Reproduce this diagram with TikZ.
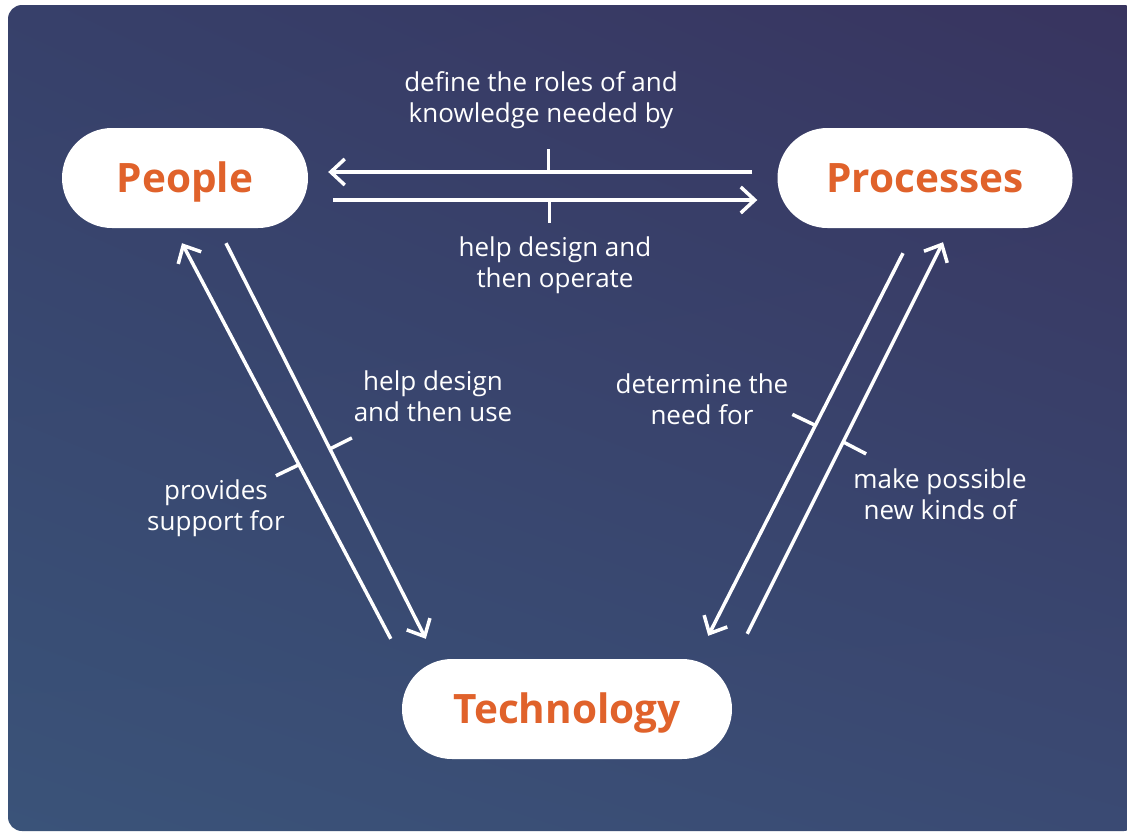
\documentclass[tikz,border=0pt]{standalone}
\usepackage{fontspec}
\setmainfont{Open Sans}
\usetikzlibrary{arrows.meta,shadings}

\definecolor{bgtl}{HTML}{37406A}
\definecolor{bgtr}{HTML}{38345F}
\definecolor{bgbl}{HTML}{3A5379}
\definecolor{bgbr}{HTML}{3A4A73}
\definecolor{boxtext}{HTML}{E0622B}

\tikzset{
  box/.style={fill=white, rounded corners=50pt, minimum height=100pt,
    text height=34pt, text depth=6pt,
    text=boxtext, font=\fontsize{40.5}{42}\selectfont\bfseries},
  link/.style={white, line width=3.5pt, -{Straight Barb[length=14pt,width=26pt]}},
  tick/.style={white, line width=3.5pt},
  lbl/.style={text=white, align=center, font=\fontsize{26}{31}\selectfont}
}

\begin{document}
\begin{tikzpicture}[x=1pt,y=-1pt]
\useasboundingbox (0,0) rectangle (1127,833);
\fill[white] (0,0) rectangle (1127,833);
\shade[upper left=bgtl, upper right=bgtr, lower left=bgbl, lower right=bgbr,
  rounded corners=14pt] (8,5) rectangle (1138,831);

% the three boxes
\node[box, minimum width=246pt] (peop) at (185,178) {People};
\node[box, minimum width=295pt] (proc) at (925,178) {Processes};
\node[box, minimum width=330pt] (tech) at (567,709) {Technology};

% people <-> processes
\draw[link] ([shift={(-25,-6)}]proc.west) -- coordinate[pos=0.48] (m1) ([shift={(20,-6)}]peop.east);
\draw[tick] (m1) -- ++(0,-23);
\draw[link] ([shift={(25,22)}]peop.east) -- coordinate[pos=0.51] (m2) ([shift={(-20,22)}]proc.west);
\draw[tick] (m2) -- ++(0,23);

% people <-> technology
\draw[link] ([shift={(-11,-20)}]tech.north west) -- coordinate[pos=0.44] (m3) ([shift={(-3,15)}]peop.south);
\draw[tick] (m3) -- ++(-23,11);
\draw[link] ([shift={(41,15)}]peop.south) -- coordinate[pos=0.52] (m4) ([shift={(24,-20)}]tech.north west);
\draw[tick] (m4) -- ++(22,-11);

% processes <-> technology
\draw[link] ([shift={(-22,25)}]proc.south) -- coordinate[pos=0.45] (m5) ([shift={(-24,-23)}]tech.north east);
\draw[tick] (m5) -- ++(-23,-11);
\draw[link] ([shift={(15,-25)}]tech.north east) -- coordinate[pos=0.49] (m6) ([shift={(18,14)}]proc.south);
\draw[tick] (m6) -- ++(23,12);

% labels
\node[lbl] (defn) at (541,100) {define the roles of and\\knowledge needed by};
\node[lbl] (oper) at (555,265) {help design and\\then operate};
\node[lbl] (use)  at (433,396) {help design\\and then use};
\node[lbl] (supp) at (216,508) {provides\\support for};
\node[lbl] (need) at (702,399) {determine the\\need for};
\node[lbl] (poss) at (940,494) {make possible\\new kinds of};
\end{tikzpicture}
\end{document}
